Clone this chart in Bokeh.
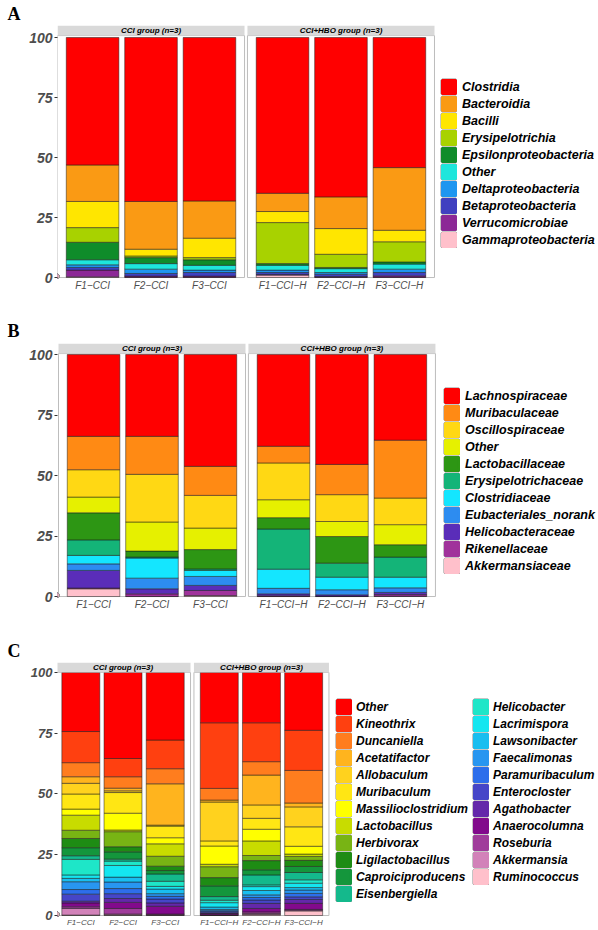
from bokeh.plotting import figure
from bokeh.layouts import column
from bokeh.models import Range1d, FixedTicker, Legend, LegendItem, ColumnDataSource
from bokeh.core.properties import value
from bokeh.embed import file_html
from bokeh.resources import INLINE

# ---------------- data ----------------
samples = ["F1−CCI", "F2−CCI", "F3−CCI", "F1−CCI−H", "F2−CCI−H", "F3−CCI−H"]
groups = ["CCI group (n=3)", "CCI+HBO group (n=3)"]
y_ticks = [0, 25, 50, 75, 100]

# Panel A (class level), legend order top -> bottom
a_taxa = ["Clostridia", "Bacteroidia", "Bacilli", "Erysipelotrichia",
          "Epsilonproteobacteria", "Other", "Deltaproteobacteria",
          "Betaproteobacteria", "Verrucomicrobiae", "Gammaproteobacteria"]
a_colors = ["#FF0000", "#FA9A14", "#FFE600", "#A8D200", "#0F8C2A",
            "#1EE6DC", "#1E96F0", "#4040C0", "#8C2896", "#FFC0CB"]
a_F1_CCI = [53.1, 15.2, 10.9, 6.1, 7.3, 2.1, 1.1, 1.1, 2.8, 0.3]
a_F2_CCI = [68.3, 19.9, 2.8, 0.7, 2.5, 2.3, 1.8, 1.1, 0.5, 0.1]
a_F3_CCI = [68.1, 15.5, 8.1, 0.9, 2.3, 2.0, 1.0, 1.5, 0.5, 0.1]
a_F1_CCI_H = [64.9, 7.6, 4.6, 17.1, 0.7, 2.0, 1.0, 0.8, 0.3, 1.0]
a_F2_CCI_H = [66.4, 13.2, 10.7, 5.5, 0.5, 1.6, 0.7, 1.0, 0.3, 0.1]
a_F3_CCI_H = [54.2, 26.1, 4.8, 8.4, 0.9, 2.1, 1.4, 1.4, 0.6, 0.1]

# Panel B (family level)
b_taxa = ["Lachnospiraceae", "Muribaculaceae", "Oscillospiraceae", "Other",
          "Lactobacillaceae", "Erysipelotrichaceae", "Clostridiaceae",
          "Eubacteriales_norank", "Helicobacteraceae", "Rikenellaceae",
          "Akkermansiaceae"]
b_colors = ["#FF0000", "#FF8A14", "#FFD814", "#E6F000", "#2D9614", "#14B478",
            "#14E6FF", "#2D8CF0", "#5A2DB9", "#A0329B", "#FFC0CB"]
b_F1_CCI = [33.8, 13.8, 11.3, 6.5, 11.2, 6.4, 3.5, 2.7, 7.3, 0.3, 3.2]
b_F2_CCI = [33.8, 15.7, 19.7, 12.0, 2.5, 0.4, 8.3, 4.4, 2.1, 1.1, 0.0]
b_F3_CCI = [46.2, 12.0, 13.5, 8.9, 8.0, 0.6, 2.5, 3.7, 2.1, 2.1, 0.4]
b_F1_CCI_H = [37.9, 6.9, 15.2, 7.4, 4.7, 16.6, 7.9, 2.3, 0.8, 0.3, 0.0]
b_F2_CCI_H = [45.4, 12.5, 11.1, 6.2, 11.0, 5.8, 5.2, 2.1, 0.6, 0.1, 0.0]
b_F3_CCI_H = [35.4, 23.9, 11.0, 8.3, 5.1, 8.3, 4.4, 1.9, 0.9, 0.7, 0.1]

# Panel C (genus level)
c_taxa = ["Other", "Kineothrix", "Duncaniella", "Acetatifactor", "Allobaculum",
          "Muribaculum", "Massilioclostridium", "Lactobacillus", "Herbivorax",
          "Ligilactobacillus", "Caproiciproducens", "Eisenbergiella",
          "Helicobacter", "Lacrimispora", "Lawsonibacter", "Faecalimonas",
          "Paramuribaculum", "Enterocloster", "Agathobacter", "Anaerocolumna",
          "Roseburia", "Akkermansia", "Ruminococcus"]
c_colors = ["#FF0000", "#FF4010", "#FF7D1E", "#FFB41E", "#FFD21E", "#FFE614",
            "#FFFF00", "#C8DC00", "#78B414", "#1E8C14", "#14963C", "#14B98C",
            "#1EE6C8", "#14E6F0", "#19BEF0", "#2896F0", "#2D6EEB", "#4646C8",
            "#6428AA", "#820A8C", "#A03C9B", "#D282B9", "#FFC0CB"]
c_F1_CCI = [24.3, 12.8, 5.8, 2.7, 4.4, 6.2, 2.5, 6.2, 3.4, 3.8, 3.3, 1.5,
            6.4, 1.4, 1.4, 3.2, 1.9, 2.9, 0.7, 1.6, 0.7, 2.7, 0.2]
c_F2_CCI = [35.4, 7.5, 4.7, 1.1, 0.7, 8.5, 6.9, 0.7, 6.2, 2.1, 3.0, 0.8,
            1.8, 4.8, 2.0, 2.7, 2.1, 2.0, 1.6, 2.5, 2.3, 0.4, 0.2]
c_F3_CCI = [27.8, 11.8, 6.2, 17.0, 0.4, 4.8, 2.5, 5.1, 4.1, 1.8, 1.4, 3.0,
            2.1, 1.1, 1.9, 1.1, 1.1, 1.6, 1.4, 3.2, 0.3, 0.2, 0.1]
c_F1_CCI_H = [20.7, 27.0, 4.8, 0.8, 16.0, 2.1, 7.5, 1.0, 4.5, 3.4, 4.4, 1.5,
              1.0, 1.8, 1.0, 0.5, 0.4, 0.5, 0.3, 0.5, 0.1, 0.1, 0.1]
c_F2_CCI_H = [20.7, 16.0, 5.5, 12.3, 5.5, 4.5, 4.8, 6.0, 2.1, 3.8, 2.1, 4.1,
              0.7, 1.6, 1.8, 1.1, 1.0, 1.4, 2.1, 1.4, 0.7, 0.4, 0.4]
c_F3_CCI_H = [23.8, 16.5, 13.4, 1.6, 8.2, 8.0, 3.2, 1.0, 1.6, 2.5, 2.5, 3.0,
              1.4, 1.8, 1.0, 1.4, 1.4, 1.1, 1.6, 2.5, 0.3, 0.3, 1.9]

FONT = "Liberation Sans"
FIG_W = 598
MB_LEFT = 57


def panel(letter, taxa, colors, vals, fig_h, mb_top, mb_bottom, x_start, x_end,
          y_start, y_end, strip_lo, shift, ysize, xsize, legends, title_standoff):
    xs = [1.0, 2.0, 3.0, 1.0 + shift, 2.0 + shift, 3.0 + shift]
    p = figure(width=FIG_W, height=fig_h,
               x_range=Range1d(x_start, x_end), y_range=Range1d(y_start, y_end),
               output_backend="svg", toolbar_location=None,
               min_border_left=MB_LEFT, min_border_right=0,
               min_border_top=mb_top, min_border_bottom=mb_bottom,
               background_fill_color="white", border_fill_color="white")
    p.outline_line_color = None
    p.xgrid.visible = False
    p.ygrid.visible = False

    # panel letter as title
    p.title.text = letter
    p.title.align = "left"
    p.title.offset = -50
    p.title.standoff = title_standoff
    p.title.text_font = "Liberation Serif"
    p.title.text_font_style = "bold"
    p.title.text_font_size = "18px"
    p.title.text_color = "black"

    lefts = [0.4, 0.4 + shift]
    rights = [3.6, 3.6 + shift]
    # panel borders
    p.quad(left=lefts, right=rights, bottom=[0, 0], top=[strip_lo, strip_lo],
           fill_color=None, line_color="#BDBDBD", line_width=1)

    data = {"x": xs}
    for i, t in enumerate(taxa):
        data[t] = [v[i] for v in vals]
    src = ColumnDataSource(data)
    p.vbar_stack(taxa[::-1], x="x", width=0.9, source=src,
                 fill_color=colors[::-1], line_color="#1A1A1A", line_width=0.5)

    # facet strips
    p.quad(left=lefts, right=rights, bottom=[strip_lo, strip_lo], top=[y_end, y_end],
           fill_color="#D9D9D9", line_color=None)
    p.text(x=[(l + r) / 2 for l, r in zip(lefts, rights)],
           y=[(strip_lo + y_end) / 2] * 2, text=groups,
           text_font=value(FONT), text_font_style="bold italic",
           text_font_size="8px", text_align="center", text_baseline="middle",
           text_color="black")

    # axes
    ya = p.yaxis[0]
    ya.ticker = FixedTicker(ticks=y_ticks)
    ya.axis_line_color = None
    ya.major_tick_line_color = "#333333"
    ya.major_tick_out = 3
    ya.major_tick_in = 0
    ya.minor_tick_line_color = None
    ya.minor_tick_out = 0
    ya.major_label_standoff = 2
    ya.major_label_text_font = FONT
    ya.major_label_text_font_style = "bold italic"
    ya.major_label_text_font_size = ysize
    ya.major_label_text_color = "#4D4D4D"

    xa = p.xaxis[0]
    xa.ticker = FixedTicker(ticks=xs)
    xa.major_label_overrides = {x: s for x, s in zip(xs, samples)}
    xa.axis_line_color = None
    xa.major_tick_line_color = None
    xa.major_tick_out = 0
    xa.major_tick_in = 0
    xa.minor_tick_line_color = None
    xa.minor_tick_out = 0
    xa.major_label_standoff = 1
    xa.major_label_text_font = FONT
    xa.major_label_text_font_style = "italic"
    xa.major_label_text_font_size = xsize
    xa.major_label_text_color = "#4D4D4D"

    # legends (inside the frame, right of the facets)
    cmap = dict(zip(taxa, colors))
    for names, vx, vy, fs, standoff in legends:
        items = []
        for n in names:
            under = p.vbar(x=[-10], top=[1], width=0.1, fill_color="#8C8C8C",
                           line_color="#8C8C8C", line_width=3.4)
            over = p.vbar(x=[-10], top=[1], width=0.1, fill_color=cmap[n],
                          line_color=cmap[n], line_width=2.4)
            items.append(LegendItem(label=value(n), renderers=[under, over]))
        leg = Legend(items=items, location=(vx, vy), orientation="vertical",
                     glyph_width=17, glyph_height=17, label_height=17, spacing=0,
                     padding=0, margin=0, label_standoff=standoff,
                     border_line_color=None, background_fill_alpha=0,
                     label_text_font=FONT, label_text_font_style="bold italic",
                     label_text_font_size=fs, label_text_color="black",
                     label_text_baseline="middle")
        p.add_layout(leg)
    return p


pA = panel("A", a_taxa, a_colors,
           [a_F1_CCI, a_F2_CCI, a_F3_CCI, a_F1_CCI_H, a_F2_CCI_H, a_F3_CCI_H],
           fig_h=300, mb_top=25, mb_bottom=22, x_start=0.4, x_end=9.656,
           y_start=-0.4, y_end=105.0, strip_lo=100.8, shift=3.25,
           ysize="14px", xsize="10px",
           legends=[(a_taxa, 383, 30, "12.5px", 5)], title_standoff=3)

pB = panel("B", b_taxa, b_colors,
           [b_F1_CCI, b_F2_CCI, b_F3_CCI, b_F1_CCI_H, b_F2_CCI_H, b_F3_CCI_H],
           fig_h=312, mb_top=43, mb_bottom=15, x_start=0.383, x_end=9.64,
           y_start=-0.4, y_end=104.56, strip_lo=100.4, shift=3.25,
           ysize="14px", xsize="10px",
           legends=[(b_taxa, 386, 23, "12.5px", 5)], title_standoff=5)

pC = panel("C", c_taxa, c_colors,
           [c_F1_CCI, c_F2_CCI, c_F3_CCI, c_F1_CCI_H, c_F2_CCI_H, c_F3_CCI_H],
           fig_h=317, mb_top=50, mb_bottom=13, x_start=0.447, x_end=13.27,
           y_start=-0.4, y_end=104.1, strip_lo=100.0, shift=3.28125,
           ysize="13px", xsize="8px",
           legends=[(c_taxa[:12], 278, 14, "12px", 4),
                    (c_taxa[12:], 415, 31, "12px", 4)],
           title_standoff=4)

layout = column(pA, pB, pC)
open("out.html", "w").write(file_html(layout, INLINE))
